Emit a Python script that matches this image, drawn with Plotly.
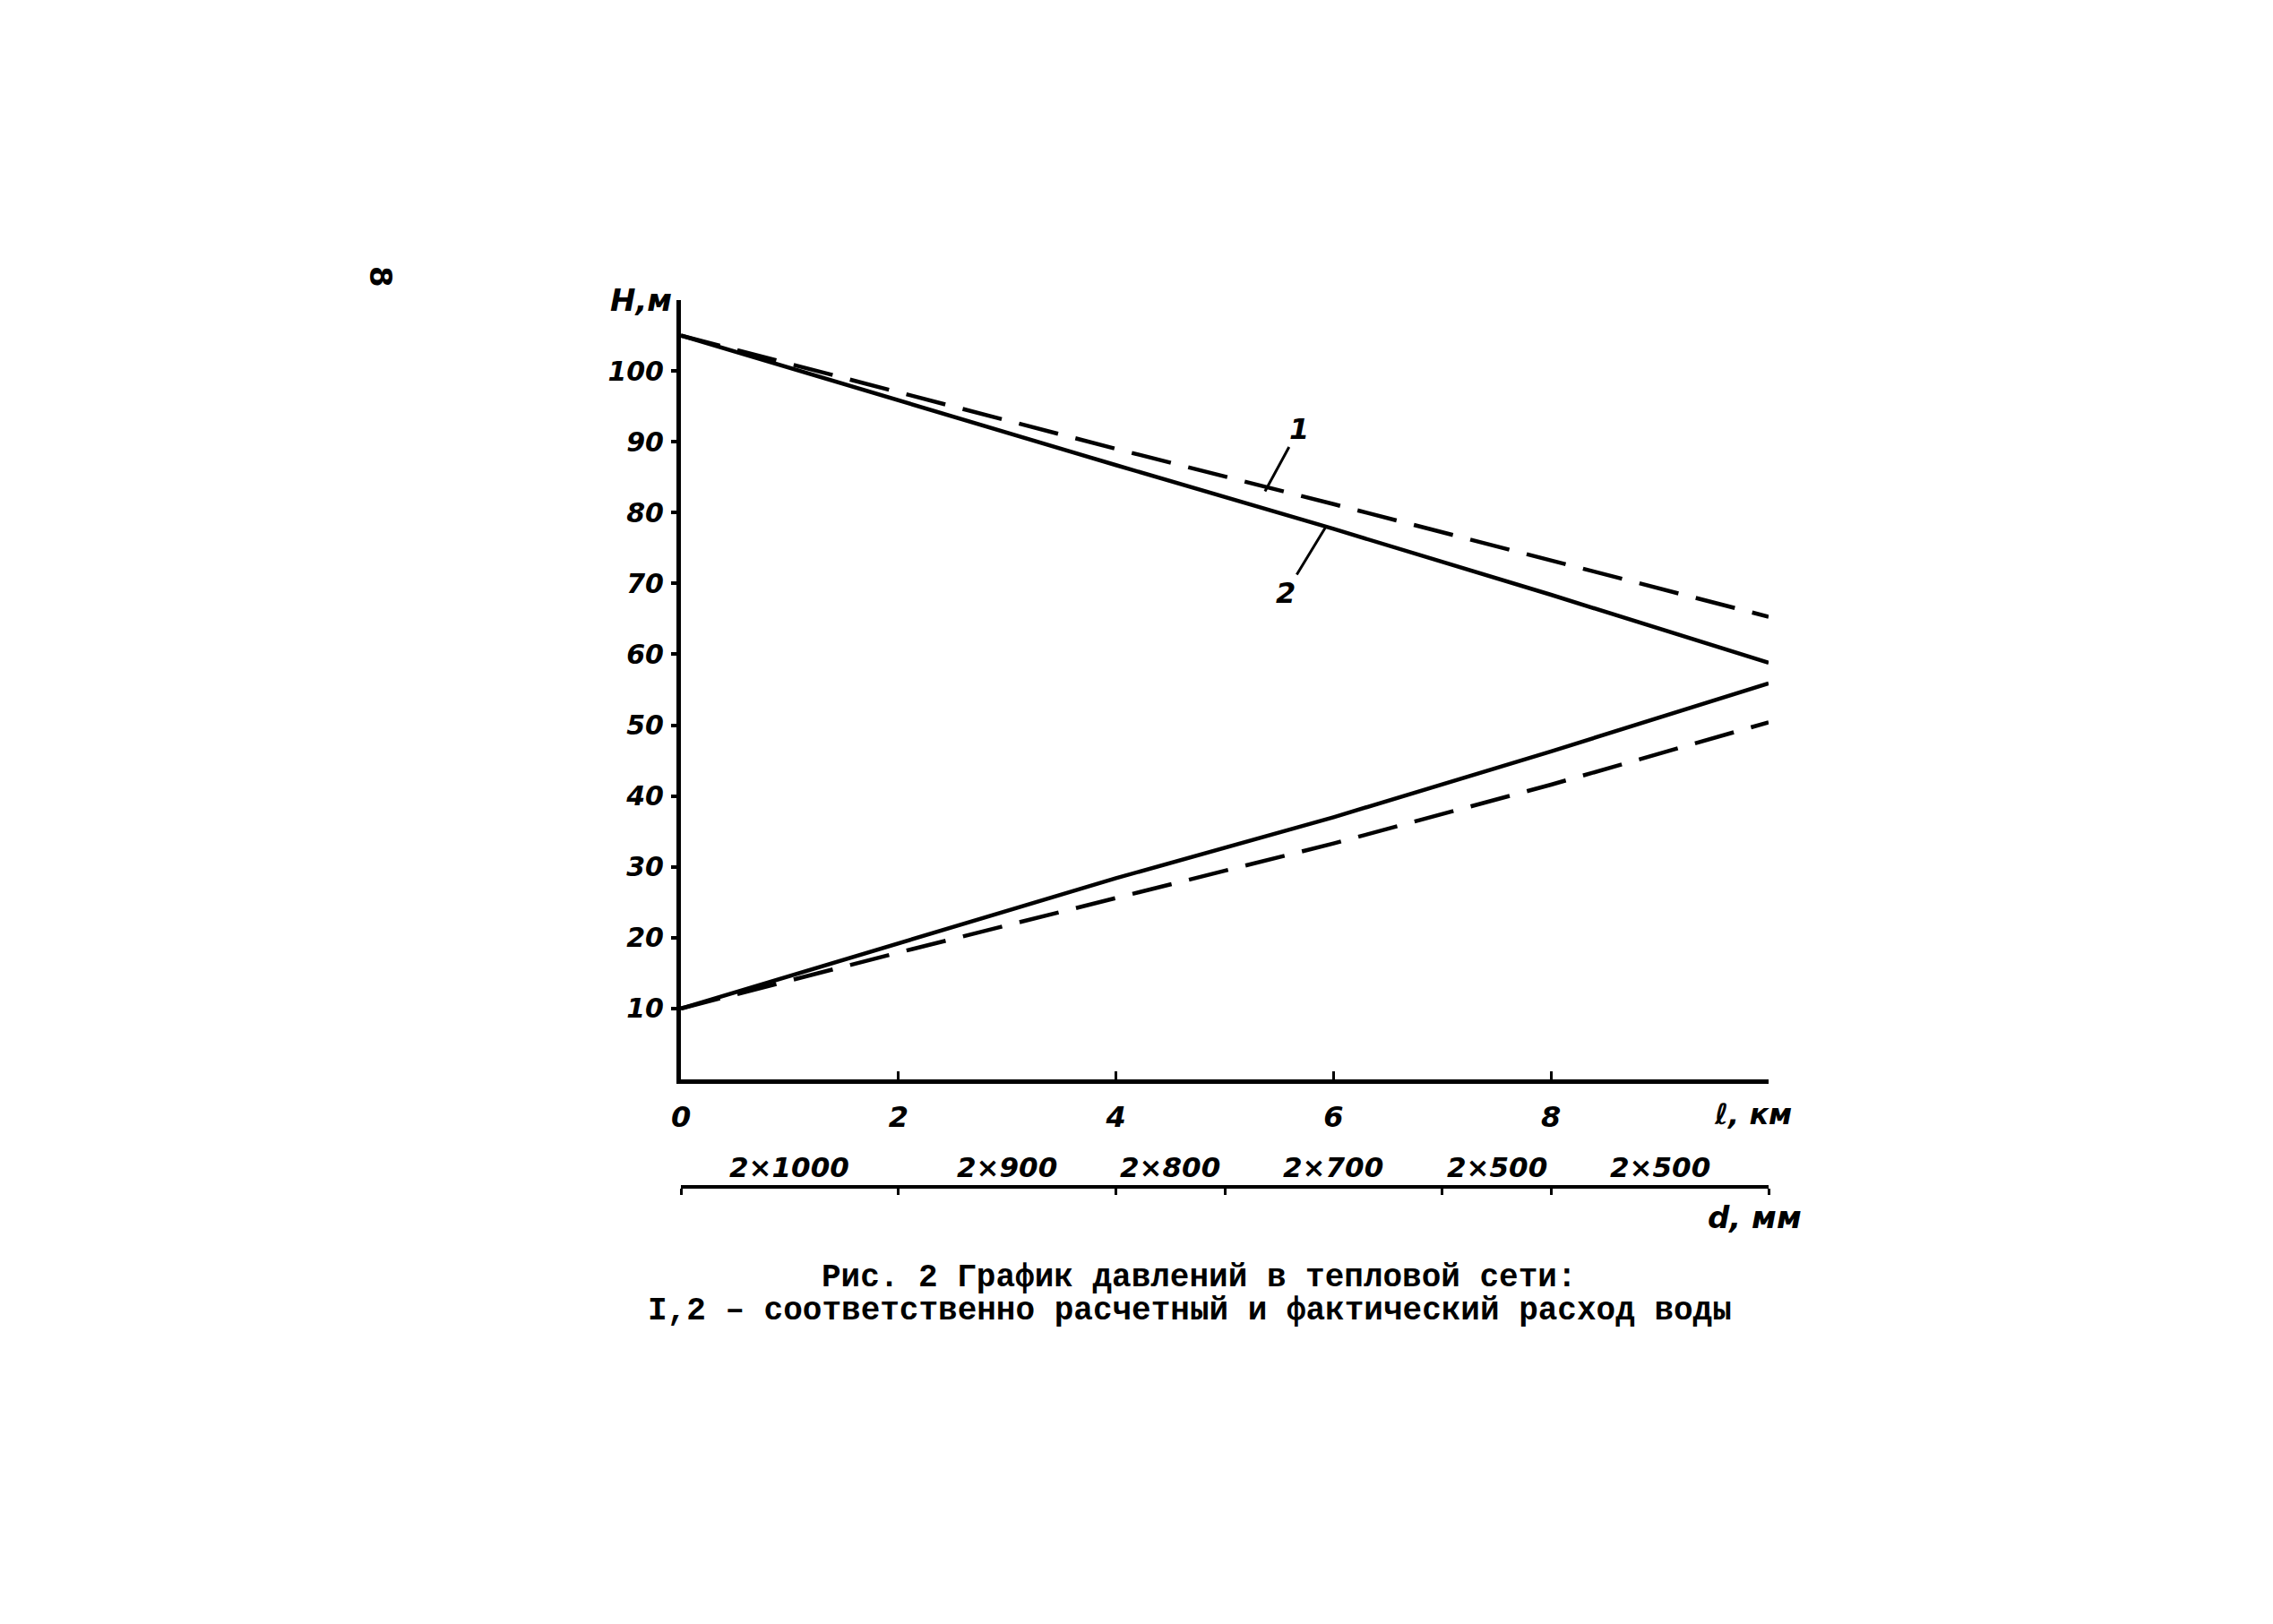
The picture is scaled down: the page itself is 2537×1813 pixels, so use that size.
import plotly.graph_objects as go

# ---- data ----
length_km = [0, 2, 4, 6, 8, 10]
h_supply_calc = [105, 97.0, 89.0, 81.2, 73.3, 65.3]      # 1, dashed (upper)
h_supply_fact = [105, 95.8, 86.7, 77.7, 68.4, 58.8]      # 2, solid (upper)
h_return_fact = [10, 19.2, 28.4, 37.0, 46.3, 55.9]       # 2, solid (lower)
h_return_calc = [10, 17.9, 25.6, 33.3, 41.6, 50.4]       # 1, dashed (lower)

y_ticks = [10, 20, 30, 40, 50, 60, 70, 80, 90, 100]
x_ticks = [0, 2, 4, 6, 8]

pipe_bounds = [0, 2, 4, 5, 7, 8, 10]
pipe_labels = ["2×1000", "2×900", "2×800", "2×700", "2×500", "2×500"]

caption_1 = "Рис. 2 График давлений в тепловой сети:"
caption_2 = "I,2 – соответственно расчетный и фактический расход воды"

W, H = 2537, 1813
L, R = 752, 1966
T, B_main, B_pipe = 327, 1197, 1317


def px(xp):
    return (xp - L) / (R - L)


def py(yp):
    return (B_pipe - yp) / (B_pipe - T)


hand = dict(family="DejaVu Sans", size=30, color="black", style="italic", weight="bold")

fig = go.Figure()

line_w = 4.5
fig.add_trace(go.Scatter(x=length_km, y=h_supply_calc, mode="lines",
                         line=dict(color="black", width=line_w, dash="45px,20px"),
                         showlegend=False, hoverinfo="skip"))
fig.add_trace(go.Scatter(x=length_km, y=h_supply_fact, mode="lines",
                         line=dict(color="black", width=line_w),
                         showlegend=False, hoverinfo="skip"))
fig.add_trace(go.Scatter(x=length_km, y=h_return_fact, mode="lines",
                         line=dict(color="black", width=line_w),
                         showlegend=False, hoverinfo="skip"))
fig.add_trace(go.Scatter(x=length_km, y=h_return_calc, mode="lines",
                         line=dict(color="black", width=line_w, dash="45px,20px"),
                         showlegend=False, hoverinfo="skip"))
# invisible trace to activate the pipe axis
fig.add_trace(go.Scatter(x=pipe_bounds, y=[None] * len(pipe_bounds), xaxis="x2",
                         mode="lines", showlegend=False, hoverinfo="skip"))

plot_h = B_pipe - T
y_dom0 = (B_pipe - B_main) / plot_h

fig.update_layout(
    width=W, height=H,
    margin=dict(l=L, r=W - R, t=T, b=H - B_pipe),
    paper_bgcolor="white", plot_bgcolor="white",
    xaxis=dict(range=[0, 10], showgrid=False, zeroline=False, anchor="y",
               showline=True, linecolor="black", linewidth=5,
               tickvals=x_ticks + [10], ticktext=[str(v) for v in x_ticks] + [""],
               ticks="inside", ticklen=9, tickwidth=3, tickcolor="black",
               tickfont=dict(hand, size=32), ticklabelstandoff=10),
    yaxis=dict(range=[0, 110], domain=[y_dom0, 1], showgrid=False, zeroline=False,
               showline=True, linecolor="black", linewidth=5,
               tickvals=y_ticks, ticks="outside", ticklen=6, tickwidth=4,
               tickcolor="black", tickfont=hand, ticklabelstandoff=2),
    xaxis2=dict(range=[0, 10], overlaying="x", anchor="free", position=0,
                side="bottom", showgrid=False, zeroline=False,
                showline=True, linecolor="black", linewidth=4,
                tickvals=pipe_bounds, showticklabels=False,
                ticks="outside", ticklen=7, tickwidth=3, tickcolor="black"),
    font=dict(family="DejaVu Sans", color="black"),
)

# pipe diameter labels centred in each segment
for i, lab in enumerate(pipe_labels):
    mid = (pipe_bounds[i] + pipe_bounds[i + 1]) / 2
    fig.add_annotation(x=mid, y=0, xref="x2", yref="paper", text=lab,
                       showarrow=False, yanchor="bottom", yshift=2,
                       font=dict(hand, size=31))

# axis titles
fig.add_annotation(x=0, y=1, xref="x", yref="paper", text="H,м", showarrow=False,
                   xanchor="right", yanchor="middle", xshift=-8, yshift=0,
                   font=dict(hand, size=34))
fig.add_annotation(x=10, y=0, xref="x", yref="y", text="ℓ, км", showarrow=False,
                   xanchor="center", yanchor="top", yshift=-18, xshift=-18,
                   font=dict(hand, size=32))
fig.add_annotation(x=10, y=0, xref="x2", yref="paper", text="d, мм", showarrow=False,
                   xanchor="center", yanchor="top", yshift=-12, xshift=-16,
                   font=dict(hand, size=34))

# curve labels 1 and 2 with leader lines
fig.add_annotation(x=5.37, y=83.0, xref="x", yref="y", text="1", showarrow=True,
                   arrowhead=0, arrowwidth=3, arrowcolor="black", ax=38, ay=-70,
                   font=dict(hand, size=32))
fig.add_annotation(x=5.93, y=78.0, xref="x", yref="y", text="2", showarrow=True,
                   arrowhead=0, arrowwidth=3, arrowcolor="black", ax=-45, ay=74,
                   font=dict(hand, size=32))

# caption
cap_font = dict(family="Liberation Mono", size=36, color="black", weight="bold")
fig.add_annotation(x=px(1330), y=py(1418), xref="paper", yref="paper",
                   text=caption_1, showarrow=False, font=cap_font,
                   xanchor="center", yanchor="middle")
fig.add_annotation(x=px(1320), y=py(1455), xref="paper", yref="paper",
                   text=caption_2, showarrow=False, font=cap_font,
                   xanchor="center", yanchor="middle")

# page number (rotated)
fig.add_annotation(x=px(417), y=py(301), xref="paper", yref="paper",
                   text="8", showarrow=False, textangle=90,
                   font=dict(family="DejaVu Sans", size=34, color="black", weight="bold"),
                   xanchor="center", yanchor="middle")

fig.write_html("out.html")
